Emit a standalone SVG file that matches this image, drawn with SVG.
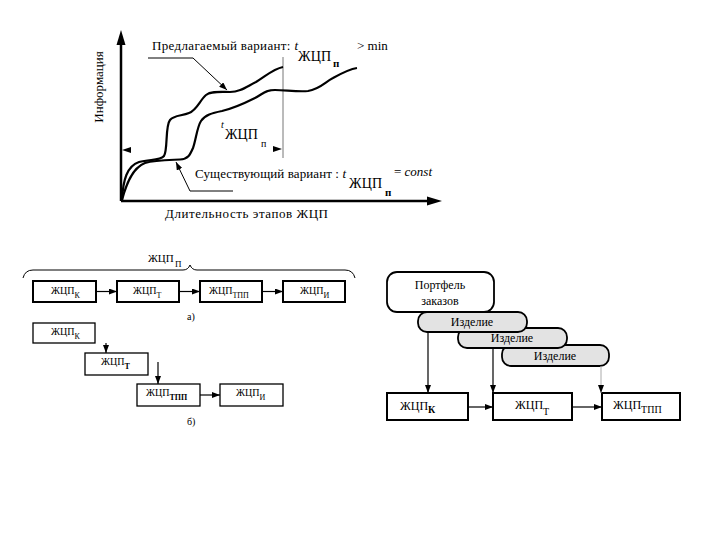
<svg xmlns="http://www.w3.org/2000/svg" width="720" height="540" viewBox="0 0 720 540" font-family="'Liberation Serif', 'DejaVu Serif', serif">
<defs>
<marker id="ahs" markerUnits="userSpaceOnUse" markerWidth="8" markerHeight="6" refX="8" refY="3" orient="auto">
<path d="M0,0 L8,3 L0,6 Z" fill="#000"/>
</marker>
</defs>
<style>
text{font-family:'Liberation Serif','DejaVu Serif',serif;fill:#000}
.ax{stroke:#000;stroke-width:2.5;fill:none}
.cv{stroke:#000;stroke-width:2.2;fill:none}
.ld{stroke:#000;stroke-width:1;fill:none}
.bx{fill:#fff;stroke:#000;stroke-width:2}
.bxt{fill:#fff;stroke:#000;stroke-width:1.3}
.rb{fill:#fff;stroke:#000;stroke-width:1.8}
.gb{fill:#e3e3e3;stroke:#000;stroke-width:1.8}
.cn{stroke:#000;stroke-width:1.2;fill:none}
.t10{font-size:10px}
.s8{font-size:8px}
.t12{font-size:12px}
.t13{font-size:13px}
.it{font-style:italic}
</style>

<g id="graph" font-family="'Liberation Serif', serif">
<path class="ax" d="M121,201 L121,42"/>
<polygon points="121,30 116.5,45 125.5,45" fill="#000"/>
<path class="ax" d="M121,201 L430,201"/>
<polygon points="442,201 427,196.5 427,205.5" fill="#000"/>
<text class="t13" transform="translate(103,87) rotate(-90)" text-anchor="middle">Информация</text>
<text class="t13" x="165" y="218" textLength="163">Длительность этапов ЖЦП</text>
<line x1="283" y1="57" x2="283" y2="158" stroke="#777" stroke-width="1"/>
<path class="cv" d="M122,200 C123,180 127,166 139,162 C150,159 160,161 164,156 C168,150 165,126 170,120 C174,115 182,116 189,113 C197,110 200,100 206,95 C211,91 220,92 230,92 C240,92 246,87 256,82 C266,76 273,69 283,67"/>
<path class="cv" d="M122,200 C126,185 132,168 145,163 C155,160 170,160 180,159.5 C188,159 190,155 193,148 C196,140 197,127 201,121 C205,115 212,113 222,111 C235,108 245,103 255,98 C263,94 265,90 275,90 C285,90 298,92 308,91 C320,89 325,82 333,78 C342,73 350,69 357,68"/>
<polygon points="122,150 131,147 131,153" fill="#000"/>
<polygon points="282,149 273,146 273,152" fill="#000"/>
<text x="221" y="128" font-size="10" class="it">t</text>
<text x="225" y="139" font-size="14">ЖЦП</text>
<text x="261" y="147" font-size="10">п</text>
<polyline class="ld" points="148,58 193,58 227,90" marker-end="url(#ahs)"/>
<text class="t13" x="152" y="50" textLength="146">Предлагаемый вариант: <tspan class="it">t</tspan></text>
<text x="298" y="61" font-size="14" textLength="33">ЖЦП</text>
<text x="333" y="67" font-size="11" font-weight="bold">п</text>
<text class="t13" x="357" y="50">&gt; min</text>
<polyline class="ld" points="233,191 190,191 176,162" marker-end="url(#ahs)"/>
<text class="t13" x="195" y="178" textLength="151">Существующий вариант : <tspan class="it">t</tspan></text>
<text x="349" y="188" font-size="14" textLength="33">ЖЦП</text>
<text x="385" y="196" font-size="11" font-weight="bold">п</text>
<text class="t13" x="394" y="176">= <tspan class="it">const</tspan></text>
</g>

<g id="brace">
<path class="ld" d="M23,278 Q25,270 33,270 L183,270 Q188,270 190,265 Q192,270 197,270 L345,270 Q353,270 355,278"/>
<text x="148" y="262" font-size="11">ЖЦП</text>
<text x="175" y="267" font-size="9">П</text>
</g>
<g id="a-k"><rect class="bx" x="33" y="281" width="63" height="21"/><text class="t10" x="51" y="294">ЖЦП<tspan class="s8" dy="4">К</tspan></text></g>
<g id="a-t"><rect class="bx" x="117" y="281" width="62" height="21"/><text class="t10" x="133" y="294">ЖЦП<tspan class="s8" dy="4">Т</tspan></text></g>
<g id="a-tpp"><rect class="bx" x="200" y="281" width="62" height="21"/><text class="t10" x="209" y="294">ЖЦП<tspan class="s8" dy="4">ТПП</tspan></text></g>
<g id="a-i"><rect class="bx" x="283" y="281" width="62" height="21"/><text class="t10" x="300" y="294">ЖЦП<tspan class="s8" dy="4">И</tspan></text></g>
<text class="t10" x="187" y="320">а)</text>

<g id="b-k"><rect class="bxt" x="33" y="323" width="62" height="20"/><text class="t10" x="51" y="335">ЖЦП<tspan class="s8" dy="4">К</tspan></text></g>
<g id="b-t"><rect class="bxt" x="85" y="353" width="63" height="22"/><text class="t10" x="101" y="365">ЖЦП<tspan class="s8" dy="4" font-weight="bold">Т</tspan></text></g>
<g id="b-tpp"><rect class="bxt" x="137" y="384" width="63" height="22"/><text class="t10" x="146" y="396">ЖЦП<tspan class="s8" dy="4" font-weight="bold">ТПП</tspan></text></g>
<g id="b-i"><rect class="bxt" x="220" y="384" width="63" height="22"/><text class="t10" x="236" y="396">ЖЦП<tspan class="s8" dy="4">И</tspan></text></g>
<text class="t10" x="187" y="425">б)</text>

<g id="izd3"><rect class="gb" x="502" y="345" width="107" height="21" rx="9"/><text class="t12" x="555" y="360" text-anchor="middle">Изделие</text></g>
<g id="izd2"><rect class="gb" x="458" y="328" width="109" height="20" rx="9"/><text class="t12" x="512" y="342" text-anchor="middle">Изделие</text></g>
<g id="izd1"><rect class="gb" x="418" y="312" width="109" height="20" rx="9"/><text class="t12" x="472" y="326" text-anchor="middle">Изделие</text></g>
<g id="portfolio"><rect class="rb" x="387" y="272" width="107" height="40" rx="10"/><text class="t12" x="440" y="289" text-anchor="middle">Портфель</text><text class="t12" x="440" y="305" text-anchor="middle">заказов</text></g>
<g id="r-k"><rect class="bx" x="387" y="393" width="81" height="27"/><text class="t12" x="400" y="410">ЖЦП<tspan font-size="10" dy="3" font-weight="bold">К</tspan></text></g>
<g id="r-t"><rect class="bx" x="493" y="393" width="79" height="27"/><text class="t12" x="515" y="409">ЖЦП<tspan font-size="10" dy="6">Т</tspan></text></g>
<g id="r-tpp"><rect class="bx" x="602" y="393" width="78" height="27"/><text class="t12" x="613" y="409">ЖЦП<tspan font-size="10" dy="4">ТПП</tspan></text></g>

<g id="connectors">
<line class="cn" x1="96" y1="291.5" x2="117" y2="291.5" marker-end="url(#ahs)"/>
<line class="cn" x1="179" y1="291.5" x2="200" y2="291.5" marker-end="url(#ahs)"/>
<line class="cn" x1="262" y1="291.5" x2="283" y2="291.5" marker-end="url(#ahs)"/>
<line class="cn" x1="106" y1="343" x2="106" y2="353" marker-end="url(#ahs)"/>
<line class="cn" x1="158" y1="362" x2="158" y2="384" marker-end="url(#ahs)"/>
<line class="cn" x1="200" y1="395" x2="220" y2="395" marker-end="url(#ahs)"/>
<line class="cn" x1="428" y1="332" x2="428" y2="393" marker-end="url(#ahs)"/>
<line class="cn" x1="493" y1="348" x2="493" y2="393" marker-end="url(#ahs)"/>
<line x1="601" y1="366" x2="601" y2="393" stroke="#aaa" stroke-width="1" marker-end="url(#ahs)"/>
<line class="cn" x1="468" y1="407" x2="493" y2="407" marker-end="url(#ahs)"/>
<line class="cn" x1="572" y1="407" x2="602" y2="407" marker-end="url(#ahs)"/>
</g>
</svg>
